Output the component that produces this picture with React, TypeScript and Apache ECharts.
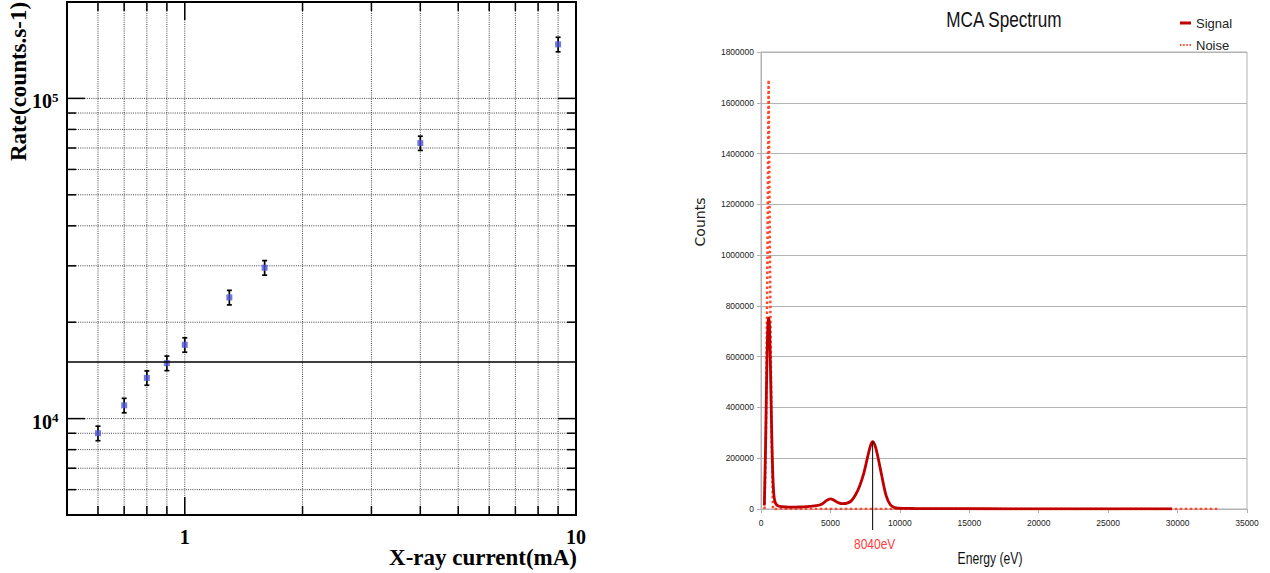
import React, { useEffect, useRef } from "react";
import * as echarts from "echarts";

// ---------- Left panel: rate vs X-ray current ----------
const xCurrent = [0.6, 0.7, 0.8, 0.9, 1.0, 1.3, 1.6, 4.0, 9.0];
const rate = [9000, 11000, 13400, 14900, 17000, 23900, 29600, 72500, 147500];
const rateErr = [470, 570, 690, 780, 880, 1250, 1550, 3700, 7700];
const referenceRate = 15000;

const xMinorTicks = [0.6, 0.7, 0.8, 0.9, 2, 3, 4, 5, 6, 7, 8, 9];
const xMajorTicks = [1, 10];
const xMajorLabels = ["1", "10"];
const yMinorTicks = [6000, 7000, 8000, 9000, 20000, 30000, 40000, 50000, 60000, 70000, 80000, 90000];
const yMajorTicks = [10000, 100000];
const yMajorExponents = ["4", "5"];

// ---------- Right panel: MCA spectrum ----------
const signalEnergy = [240, 330, 420, 500, 550, 600, 680, 760, 840, 920, 1000, 1100, 1250, 1500, 2000, 2500, 3000, 3500, 4000, 4400, 4700, 5000, 5300, 5600, 5900, 6200, 6500, 6800, 7100, 7400, 7700, 7900, 8040, 8200, 8400, 8700, 9000, 9300, 9600, 9900, 10300, 11000, 13000, 16000, 20000, 25000, 29600];
const signalCounts = [14000, 250000, 560000, 730000, 752000, 735000, 560000, 330000, 150000, 60000, 30000, 18000, 12000, 9000, 7000, 7500, 8500, 10000, 13000, 20000, 33000, 40000, 33000, 24000, 21000, 23000, 32000, 55000, 90000, 140000, 210000, 252000, 265000, 252000, 210000, 130000, 55000, 18000, 6000, 3000, 2500, 2000, 1500, 1000, 700, 400, 300];
const noiseEnergy = [250, 360, 450, 547, 650, 760, 860, 2000, 10000, 20000, 33000];
const noiseCounts = [0, 300000, 900000, 1690000, 950000, 300000, 0, 0, 0, 0, 0];
const peakMarker = [8040, 265000];

const SERIF = '"Liberation Serif", "Times New Roman", serif';
const SANS = '"Liberation Sans", Arial, sans-serif';

export default function App() {
  const ref = useRef<HTMLDivElement>(null);

  useEffect(() => {
    if (!ref.current) return;
    const chart = echarts.init(ref.current, undefined, { renderer: "svg" });

    const gridDot = { stroke: "#444", lineWidth: 1, lineDash: [1, 1.2] };
    const tickStyle = { stroke: "#000", lineWidth: 1.5 };

    const xTickRender = (major: boolean) => (params: any, api: any) => {
      const cs = params.coordSys;
      const x = api.coord([api.value(0), 10000])[0];
      const top = cs.y;
      const bottom = cs.y + cs.height;
      const len = major ? 18 : 9;
      const children: any[] = [];
      const atEdge = Math.abs(x - cs.x) < 1 || Math.abs(x - (cs.x + cs.width)) < 1;
      if (!atEdge) {
        children.push({ type: "line", shape: { x1: x, y1: top, x2: x, y2: bottom }, style: gridDot, silent: true });
        children.push({ type: "line", shape: { x1: x, y1: bottom, x2: x, y2: bottom - len }, style: tickStyle });
        children.push({ type: "line", shape: { x1: x, y1: top, x2: x, y2: top + len }, style: tickStyle });
      }
      if (major) {
        children.push({
          type: "text",
          x,
          y: bottom + 22,
          style: { text: xMajorLabels[params.dataIndex], fill: "#000", font: `bold 20px ${SERIF}`, align: "center", verticalAlign: "middle" },
        });
      }
      return { type: "group", children };
    };

    const yTickRender = (major: boolean) => (params: any, api: any) => {
      const cs = params.coordSys;
      const y = api.coord([1, api.value(1)])[1];
      const left = cs.x;
      const right = cs.x + cs.width;
      const len = major ? 18 : 9;
      const children: any[] = [
        { type: "line", shape: { x1: left, y1: y, x2: right, y2: y }, style: gridDot },
        { type: "line", shape: { x1: left, y1: y, x2: left + len, y2: y }, style: tickStyle },
        { type: "line", shape: { x1: right, y1: y, x2: right - len, y2: y }, style: tickStyle },
      ];
      if (major) {
        children.push({
          type: "text",
          x: left - 15,
          y: y + 3,
          style: { text: "10", fill: "#000", font: `bold 20px ${SERIF}`, align: "right", verticalAlign: "middle" },
        });
        children.push({
          type: "text",
          x: left - 15,
          y: y - 1,
          style: { text: yMajorExponents[params.dataIndex], fill: "#000", font: `bold 13px ${SERIF}`, align: "left", verticalAlign: "middle" },
        });
      }
      return { type: "group", children };
    };

    const plain = (v: number) => String(v);

    const option: any = {
      animation: false,
      backgroundColor: "#fff",
      grid: [
        { left: 67, top: 2, width: 509, height: 513, show: true, borderColor: "#000", borderWidth: 2, backgroundColor: "transparent", containLabel: false, outerBoundsMode: "none" },
        { left: 761, top: 52, width: 486, height: 457, show: true, borderColor: "#b3b3b3", borderWidth: 1, backgroundColor: "transparent", containLabel: false, outerBoundsMode: "none" },
      ],
      xAxis: [
        { type: "log", logBase: 10, gridIndex: 0, min: 0.5, max: 10, axisLine: { show: false }, axisTick: { show: false }, axisLabel: { show: false }, splitLine: { show: false }, minorTick: { show: false }, minorSplitLine: { show: false } },
        {
          type: "value", gridIndex: 1, min: 0, max: 35000, interval: 5000,
          axisLine: { show: true, lineStyle: { color: "#b3b3b3", width: 1 } },
          axisTick: { show: true, length: 4, lineStyle: { color: "#b3b3b3" } },
          axisLabel: { show: true, fontSize: 8.5, color: "#222", fontFamily: SANS, margin: 9, formatter: plain },
          splitLine: { show: false },
        },
      ],
      yAxis: [
        { type: "log", logBase: 10, gridIndex: 0, min: 5000, max: 200000, axisLine: { show: false }, axisTick: { show: false }, axisLabel: { show: false }, splitLine: { show: false }, minorTick: { show: false }, minorSplitLine: { show: false } },
        {
          type: "value", gridIndex: 1, min: 0, max: 1800000, interval: 200000,
          axisLine: { show: true, lineStyle: { color: "#b3b3b3", width: 1 } },
          axisTick: { show: true, length: 4, lineStyle: { color: "#b3b3b3" } },
          axisLabel: { show: true, fontSize: 8.5, color: "#222", fontFamily: SANS, margin: 7, formatter: plain },
          splitLine: { show: true, lineStyle: { color: "#b3b3b3", width: 1 } },
        },
      ],
      legend: {
        orient: "vertical",
        left: 1175,
        top: 11,
        itemWidth: 11,
        itemHeight: 3,
        itemGap: 8,
        textStyle: { fontSize: 13, fontFamily: SANS, color: "#222", lineHeight: 14 },
        data: [
          { name: "Signal", icon: "rect", itemStyle: { color: "#c00000" } },
          {
            name: "Noise",
            icon: "path://M0,0h1.4v2h-1.4z M3,0h1.4v2h-1.4z M6,0h1.4v2h-1.4z M9,0h1.4v2h-1.4z",
            itemStyle: { color: "#ff4a2a" },
          },
        ],
      },
      graphic: [
        { type: "text", x: 577, y: 557, style: { text: "X-ray current(mA)", fill: "#000", font: `bold 23px ${SERIF}`, align: "right", verticalAlign: "middle" } },
        { type: "text", x: 18, y: 161, rotation: Math.PI / 2, style: { text: "Rate(counts.s-1)", fill: "#000", font: `bold 23px ${SERIF}`, align: "left", verticalAlign: "middle" } },
        { type: "text", x: 1004, y: 19, scaleX: 0.78, style: { text: "MCA Spectrum", fill: "#111", font: `22px ${SANS}`, align: "center", verticalAlign: "middle" } },
        { type: "text", x: 700, y: 222, rotation: Math.PI / 2, style: { text: "Counts", fill: "#222", font: `14px "DejaVu Sans", sans-serif`, align: "center", verticalAlign: "middle" } },
        { type: "text", x: 990, y: 558, scaleX: 0.76, style: { text: "Energy (eV)", fill: "#111", font: `16px ${SANS}`, align: "center", verticalAlign: "middle" } },
      ],
      series: [
        // left grid: minor/major gridlines and ticks
        { type: "custom", xAxisIndex: 0, yAxisIndex: 0, renderItem: xTickRender(false), data: xMinorTicks.map((v) => [v, 10000]), silent: true, z: 1 },
        { type: "custom", xAxisIndex: 0, yAxisIndex: 0, renderItem: xTickRender(true), data: xMajorTicks.map((v) => [v, 10000]), silent: true, z: 1 },
        { type: "custom", xAxisIndex: 0, yAxisIndex: 0, renderItem: yTickRender(false), data: yMinorTicks.map((v) => [1, v]), silent: true, z: 1 },
        { type: "custom", xAxisIndex: 0, yAxisIndex: 0, renderItem: yTickRender(true), data: yMajorTicks.map((v) => [1, v]), silent: true, z: 1 },
        // error bars
        {
          type: "custom",
          xAxisIndex: 0,
          yAxisIndex: 0,
          z: 3,
          data: xCurrent.map((x, i) => [x, rate[i] - rateErr[i], rate[i] + rateErr[i]]),
          encode: { x: 0, y: [1, 2] },
          renderItem: (params: any, api: any) => {
            const lo = api.coord([api.value(0), api.value(1)]);
            const hi = api.coord([api.value(0), api.value(2)]);
            const st = { stroke: "#000", lineWidth: 1.7 };
            return {
              type: "group",
              children: [
                { type: "line", shape: { x1: lo[0], y1: lo[1], x2: hi[0], y2: hi[1] }, style: st },
                { type: "line", shape: { x1: lo[0] - 2.5, y1: lo[1], x2: lo[0] + 2.5, y2: lo[1] }, style: st },
                { type: "line", shape: { x1: hi[0] - 2.5, y1: hi[1], x2: hi[0] + 2.5, y2: hi[1] }, style: st },
              ],
            };
          },
        },
        {
          type: "scatter",
          xAxisIndex: 0,
          yAxisIndex: 0,
          z: 4,
          symbol: "rect",
          symbolSize: 6,
          itemStyle: { color: "#4f56d6" },
          data: xCurrent.map((x, i) => [x, rate[i]]),
          markLine: {
            silent: true,
            symbol: "none",
            label: { show: false },
            lineStyle: { color: "#000", width: 1.5, type: "solid" },
            data: [{ yAxis: referenceRate }],
          },
        },
        // right grid
        {
          name: "Noise",
          type: "line",
          xAxisIndex: 1,
          yAxisIndex: 1,
          symbol: "none",
          showSymbol: false,
          color: "#ff4a2a",
          lineStyle: { color: "#ff4a2a", width: 2.5, type: "dotted" },
          data: noiseEnergy.map((e, i) => [e, noiseCounts[i]]),
          z: 2,
        },
        {
          name: "Signal",
          type: "line",
          xAxisIndex: 1,
          yAxisIndex: 1,
          symbol: "none",
          showSymbol: false,
          smooth: 0.3,
          color: "#c00000",
          lineStyle: { color: "#c00000", width: 2.8 },
          data: signalEnergy.map((e, i) => [e, signalCounts[i]]),
          z: 3,
        },
        {
          type: "custom",
          xAxisIndex: 1,
          yAxisIndex: 1,
          z: 4,
          silent: true,
          data: [peakMarker],
          renderItem: (params: any, api: any) => {
            const p = api.coord([api.value(0), api.value(1)]);
            const base = api.coord([api.value(0), 0]);
            return {
              type: "group",
              children: [
                { type: "line", shape: { x1: p[0], y1: p[1], x2: base[0], y2: base[1] + 21 }, style: { stroke: "#000", lineWidth: 1 } },
                { type: "text", x: base[0] + 2, y: base[1] + 35, scaleX: 0.8, style: { text: `${api.value(0)}eV`, fill: "#ff3b3b", font: `15px ${SANS}`, align: "center", verticalAlign: "middle" } },
              ],
            };
          },
        },
      ],
    };

    chart.setOption(option);
    return () => chart.dispose();
  }, []);

  return <div ref={ref} style={{ position: "absolute", left: 0, top: 0, width: 1270, height: 573 }} />;
}
